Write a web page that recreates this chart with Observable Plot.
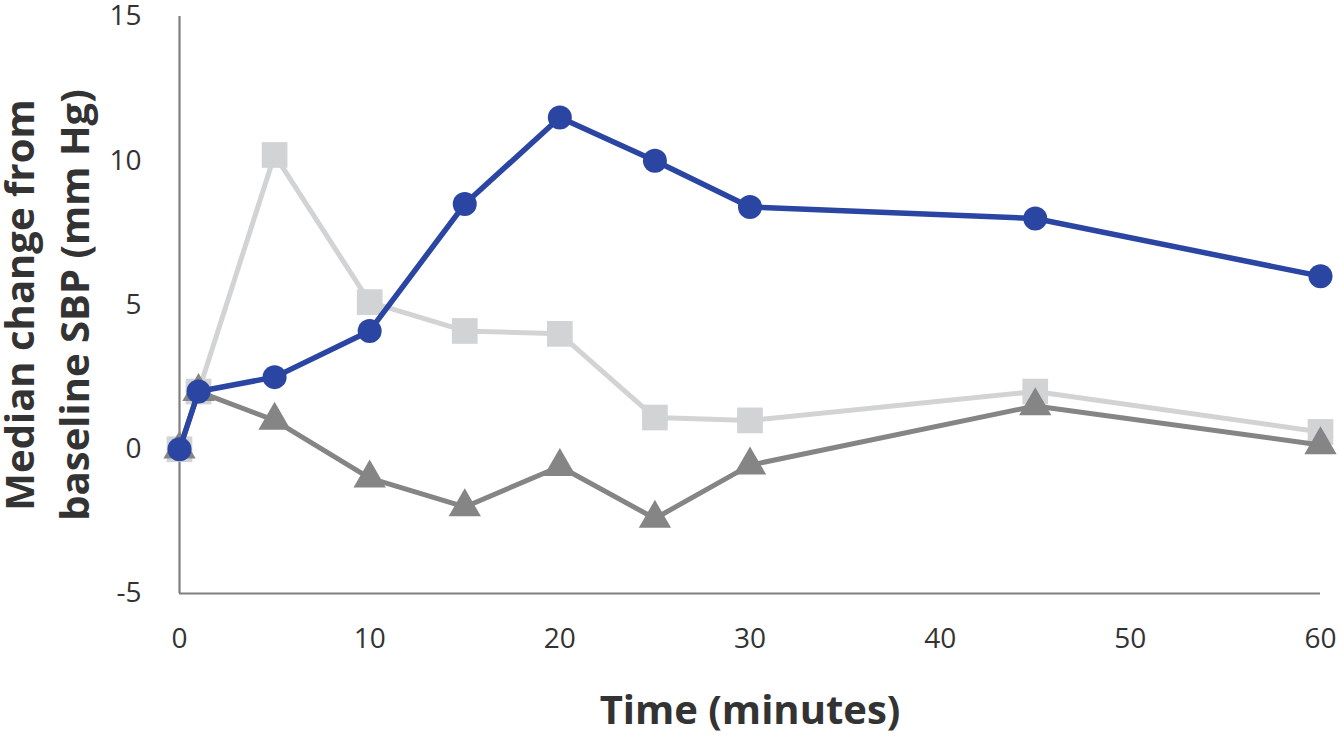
<!DOCTYPE html>
<html>
<head>
<meta charset="utf-8">
<script src="https://cdn.jsdelivr.net/npm/d3@7"></script>
<script src="https://cdn.jsdelivr.net/npm/@observablehq/plot@0.6"></script>
<style>
  html, body { margin: 0; padding: 0; background: #fff; }
  #chart { width: 1342px; height: 741px; }
</style>
</head>
<body>
<div id="chart"></div>
<script>
// ---- data ----
const timeMinutes = [0, 1, 5, 10, 15, 20, 25, 30, 45, 60];
const blueSeries  = [0, 2, 2.5, 4.1, 8.5, 11.5, 10, 8.4, 8, 6];
const lightSeries = [0, 2, 10.2, 5.1, 4.1, 4, 1.1, 1.0, 2, 0.6];
const darkSeries  = [0, 2, 1.0, -1, -2, -0.6, -2.4, -0.55, 1.5, 0.15];
const xTicks = [0, 10, 20, 30, 40, 50, 60];
const yTicks = [-5, 0, 5, 10, 15];
const xTitle = "Time (minutes)";
const yTitle = "Median change from\nbaseline SBP (mm Hg)";

const toRows = (vals) => timeMinutes.map((t, i) => ({t, v: vals[i]}));
const blueRows = toRows(blueSeries);
const lightRows = toRows(lightSeries);
const darkRows = toRows(darkSeries);

const BLUE = "#2b45a3", LIGHT = "#d2d3d4", DARK = "#858585", AXIS = "#7f7f7f", TEXT = "#333333";
const FONT = "'Open Sans', 'Noto Sans', sans-serif";

const chart = Plot.plot({
  width: 1342,
  height: 741,
  marginLeft: 179,
  marginRight: 22,
  marginTop: 16,
  marginBottom: 148,
  style: {fontFamily: FONT, fontSize: "28px", color: TEXT, background: "#fff", overflow: "visible"},
  x: {domain: [0, 60]},
  y: {domain: [-5, 15]},
  marks: [
    Plot.ruleX([0], {y1: -5, y2: 15, stroke: AXIS, strokeWidth: 2.2}),
    Plot.ruleY([-5], {x1: 0, x2: 60, stroke: AXIS, strokeWidth: 2.2}),
    Plot.axisX({ticks: xTicks, tickSize: 0, tickPadding: 35, label: null, fill: TEXT, tickFormat: d => String(d)}),
    Plot.axisY({ticks: yTicks, tickSize: 0, tickPadding: 38, label: null, fill: TEXT, tickFormat: d => String(d)}),
    // light gray squares
    Plot.line(lightRows, {x: "t", y: "v", stroke: LIGHT, strokeWidth: 5}),
    Plot.dot(lightRows, {x: "t", y: "v", symbol: "square", r: 14.5, fill: LIGHT, stroke: "none"}),
    // dark gray triangles
    Plot.line(darkRows, {x: "t", y: "v", stroke: DARK, strokeWidth: 5}),
    Plot.dot(darkRows, {x: "t", y: "v", symbol: "triangle", r: 12, fill: DARK, stroke: "none"}),
    // blue circles
    Plot.line(blueRows, {x: "t", y: "v", stroke: BLUE, strokeWidth: 5.5}),
    Plot.dot(blueRows, {x: "t", y: "v", symbol: "circle", r: 12, fill: BLUE, stroke: "none"}),
    // axis titles
    Plot.text([xTitle], {frameAnchor: "bottom", dy: 118, text: d => d, fontSize: 40, fontWeight: "bold", fill: TEXT, lineAnchor: "middle"}),
    Plot.text([yTitle], {frameAnchor: "left", dx: -136, rotate: -90, text: d => d, fontSize: 40, fontWeight: "bold", fill: TEXT, lineAnchor: "middle", textAnchor: "middle", lineHeight: 1.38})
  ]
});
document.getElementById("chart").appendChild(chart);
</script>
</body>
</html>
